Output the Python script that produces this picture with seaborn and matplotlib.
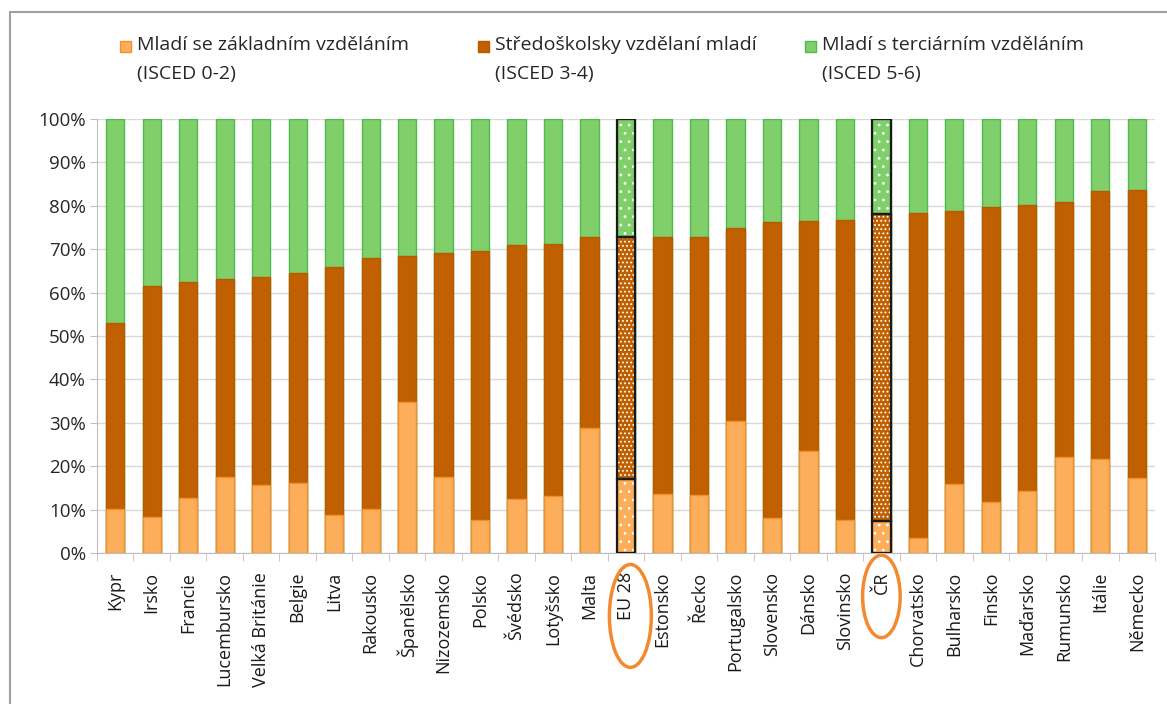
import matplotlib
matplotlib.use("Agg")
import matplotlib.pyplot as plt
from matplotlib.patches import Rectangle, Ellipse
from matplotlib.lines import Line2D
import matplotlib.transforms as mtransforms
import seaborn as sns
import pandas as pd
import numpy as np

# Data (% of young people by education level)
countries = ["Kypr", "Irsko", "Francie", "Lucembursko", "Velká Británie", "Belgie", "Litva",
             "Rakousko", "Španělsko", "Nizozemsko", "Polsko", "Švédsko", "Lotyšsko", "Malta",
             "EU 28", "Estonsko", "Řecko", "Portugalsko", "Slovensko", "Dánsko", "Slovinsko",
             "ČR", "Chorvatsko", "Bulharsko", "Finsko", "Maďarsko", "Rumunsko", "Itálie", "Německo"]
basic = [10.1, 8.4, 12.6, 17.6, 15.6, 16.1, 8.7, 10.1, 34.8, 17.6, 7.7, 12.4, 13.2, 28.9,
         17.0, 13.6, 13.3, 30.3, 8.1, 23.5, 7.6, 7.3, 3.4, 16.0, 11.8, 14.3, 22.2, 21.6, 17.3]
secondary = [42.9, 53.2, 49.9, 45.6, 47.9, 48.4, 57.3, 57.9, 33.7, 51.6, 62.0, 58.6, 58.1, 43.9,
             55.9, 59.3, 59.6, 44.6, 68.1, 53.1, 69.2, 70.9, 74.9, 62.9, 67.9, 65.9, 58.7, 61.8, 66.4]
tertiary = [47.0, 38.4, 37.5, 36.8, 36.5, 35.5, 34.0, 32.0, 31.5, 30.8, 30.3, 29.0, 28.7, 27.2,
            27.1, 27.1, 27.1, 25.1, 23.8, 23.4, 23.2, 21.8, 21.7, 21.1, 20.3, 19.8, 19.1, 16.6, 16.3]
highlight = ["EU 28", "ČR"]

series_labels = ["Mladí se základním vzděláním\n(ISCED 0-2)",
                 "Středoškolsky vzdělaní mladí\n(ISCED 3-4)",
                 "Mladí s terciárním vzděláním\n(ISCED 5-6)"]
colors = ["#FDAE5B", "#C06000", "#80CF6A"]
edges = ["#F0902E", "#B85A00", "#4DBB4D"]

df = pd.DataFrame({"zeme": countries, "basic": basic, "secondary": secondary, "tertiary": tertiary})
df["top_sec"] = df["basic"] + df["secondary"]
df["top_all"] = df["top_sec"] + df["tertiary"]

sns.set_style("white")
plt.rcParams["font.family"] = ["Open Sans", "DejaVu Sans"]
plt.rcParams["hatch.linewidth"] = 0.8

fig = plt.figure(figsize=(11.67, 7.04), dpi=100)
ax = fig.add_axes([97 / 1167, 1 - 553 / 704, (1155 - 97) / 1167, (553 - 119) / 704])

# stacked bars: draw the cumulative tops, largest first
for col, c, e in [("top_all", colors[2], edges[2]), ("top_sec", colors[1], edges[1]), ("basic", colors[0], edges[0])]:
    sns.barplot(data=df, x="zeme", y=col, color=c, edgecolor=e, linewidth=1, width=0.5,
                saturation=1, ax=ax)

# highlighted bars (EU 28, CR): white dotted pattern + black outline
n = len(countries)
for k in range(3):
    for name in highlight:
        i = countries.index(name)
        p = ax.patches[k * n + i]
        x0, w, h = p.get_x(), p.get_width(), p.get_height()
        if k == 0:
            y_low = df.loc[i, "top_sec"]
        elif k == 1:
            y_low = df.loc[i, "basic"]
        else:
            y_low = 0
        hatch = "...." if k == 1 else ".."
        ax.add_patch(Rectangle((x0, y_low), w, h - y_low, facecolor="none", edgecolor="white",
                               hatch=hatch, linewidth=0, zorder=3))
        ax.add_patch(Rectangle((x0, y_low), w, h - y_low, facecolor="none", edgecolor="#1A1A1A",
                               linewidth=1.6, zorder=4))

ax.set_ylim(0, 100)
ax.set_xlim(-0.5, n - 0.5)
ax.set_yticks(np.arange(0, 101, 10))
ax.set_yticklabels([f"{v}%" for v in range(0, 101, 10)])
ax.yaxis.grid(True, color="#D9D9D9", linewidth=1)
ax.set_axisbelow(True)
ax.set_xlabel("")
ax.set_ylabel("")
for s in ["top", "right"]:
    ax.spines[s].set_visible(False)
ax.spines["left"].set_color("#BFBFBF")
ax.spines["bottom"].set_color("#BFBFBF")
ax.tick_params(axis="y", left=True, length=5, color="#BFBFBF", labelsize=13.5, labelcolor="#262626", pad=3)
ax.tick_params(axis="x", which="major", bottom=False, labelsize=13, labelcolor="#1A1A1A", pad=10, rotation=90)
ax.set_xticks(np.arange(-0.5, n, 1), minor=True)
ax.tick_params(axis="x", which="minor", bottom=True, length=6, color="#BFBFBF")
for lbl in ax.get_xticklabels():
    lbl.set_verticalalignment("top")

# orange ellipses around EU 28 and CR labels
trans = mtransforms.blended_transform_factory(ax.transData, ax.transAxes)
ax.add_patch(Ellipse((countries.index("EU 28") + 0.12, -0.145), 1.15, 0.237, transform=trans,
                     facecolor="none", edgecolor="#F28A30", linewidth=2.5, clip_on=False))
ax.add_patch(Ellipse((countries.index("ČR"), -0.1), 1.03, 0.19, transform=trans,
                     facecolor="none", edgecolor="#F28A30", linewidth=2.5, clip_on=False))

# legend at the top (marker beside the first line of each two-line label)
leg_x = [120, 478, 805]
for lx, lab, c, e in zip(leg_x, series_labels, colors, edges):
    fig.add_artist(Rectangle((lx / 1167, 1 - 52 / 704), 11 / 1167, 11 / 704, transform=fig.transFigure,
                             facecolor=c, edgecolor=e, linewidth=1))
    fig.text((lx + 17) / 1167, 1 - 36 / 704, lab, ha="left", va="top", fontsize=14,
             color="#262626", linespacing=1.75, transform=fig.transFigure)

# outer frame (left and top border of the chart area)
fig.add_artist(Line2D([10 / 1167, 10 / 1167], [0, 1 - 12 / 704], color="#A0A0A0", linewidth=1.5,
                      transform=fig.transFigure))
fig.add_artist(Line2D([10 / 1167, 1], [1 - 12 / 704, 1 - 12 / 704], color="#A0A0A0", linewidth=1.5,
                      transform=fig.transFigure))

fig.savefig("out.png", dpi=100)
